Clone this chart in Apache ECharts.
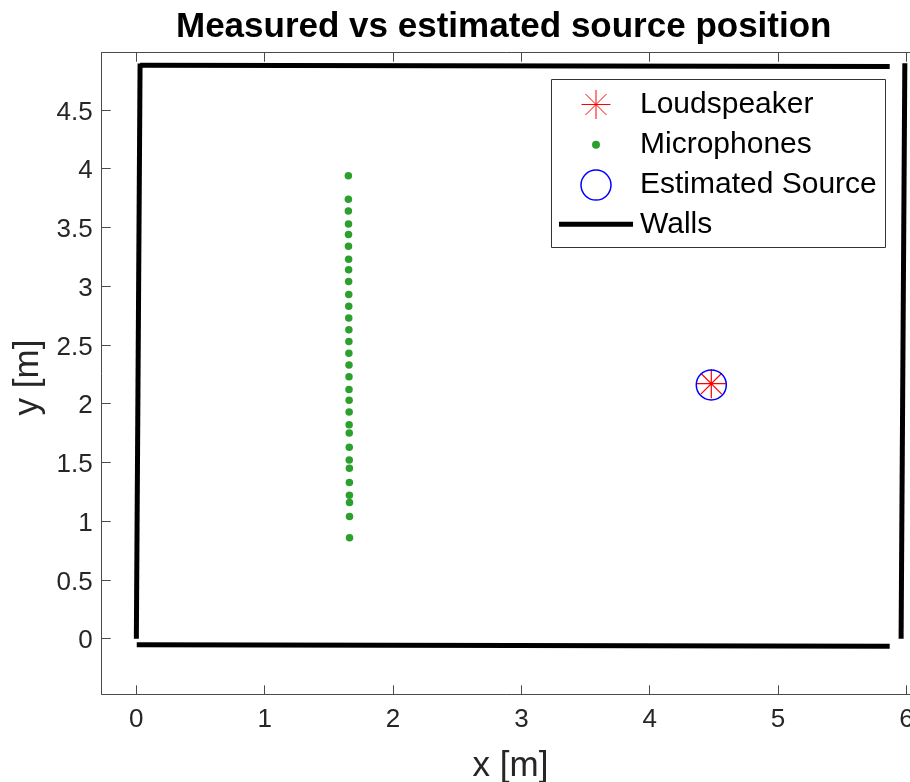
<!DOCTYPE html>
<html>
<head>
<meta charset="utf-8">
<script src="https://cdn.jsdelivr.net/npm/echarts@6/dist/echarts.min.js"></script>
<style>
  html, body { margin: 0; padding: 0; background: #ffffff; }
  #chart { width: 910px; height: 782px; }
</style>
</head>
<body>
<div id="chart"></div>
<script>
// Tick positions (metres)
const xTicks = [0, 1, 2, 3, 4, 5, 6];
const yTicks = [0, 0.5, 1, 1.5, 2, 2.5, 3, 3.5, 4, 4.5];

// Measured loudspeaker and estimated source position [x, y]
const loudspeaker = [[4.48, 2.17]];
const estimatedSource = [[4.48, 2.16]];

// Microphone array (linear array along y)
const micX = [1.652, 1.652, 1.652, 1.653, 1.653, 1.653, 1.654, 1.654, 1.654, 1.655,
              1.655, 1.655, 1.656, 1.656, 1.656, 1.657, 1.657, 1.657, 1.658, 1.658,
              1.658, 1.659, 1.659, 1.659, 1.660, 1.660, 1.660, 1.661, 1.661, 1.661];
const micY = [3.94, 3.74, 3.64, 3.53, 3.44, 3.34, 3.23, 3.14, 3.04, 2.93,
              2.83, 2.73, 2.63, 2.53, 2.43, 2.33, 2.23, 2.12, 2.03, 1.93,
              1.82, 1.75, 1.63, 1.52, 1.45, 1.33, 1.22, 1.16, 1.04, 0.86];

// Room walls, one segment each: [[x0, y0], [x1, y1]]
const wallTop = [[0.029, 4.881], [5.87, 4.870]];
const wallLeft = [[0.0, 0.0], [0.029, 4.895]];
const wallBottom = [[0.003, -0.052], [5.87, -0.064]];
const wallRight = [[5.959, 0.0], [5.988, 4.897]];

const microphones = micX.map((x, i) => [x, micY[i]]);
const walls = [wallTop, wallLeft, wallBottom, wallRight];

const FONT = 'Liberation Sans';
const AX = '#262626';
const FRAME = '#4a4a4a';
const STAR = 'path://M0,-10L0,10M-10,0L10,0M-7.2,-7.2L7.2,7.2M-7.2,7.2L7.2,-7.2';

const xMin = -0.27, xMax = 6.1;
const yMin = -0.473, yMax = 4.987;

function frameAxis(extra) {
  return Object.assign({
    type: 'value',
    axisLine: { show: true, onZero: false, lineStyle: { color: FRAME, width: 1 } },
    splitLine: { show: false },
    axisLabel: { show: false }
  }, extra);
}
function ticks(values) {
  return { show: true, inside: true, length: 9, customValues: values, lineStyle: { color: FRAME, width: 1 } };
}

const chart = echarts.init(document.getElementById('chart'), null, { renderer: 'canvas' });

// Legend rows: the icon column is 74 px wide starting at x = 559;
// each legend is placed by the left edge of its icon's drawn box.
const ICON_COL = 559, ICON_W = 74;
const legendText = { fontFamily: FONT, fontSize: 30, color: '#000000', lineHeight: 30, padding: [0, 0, 0, 2] };
function legendRow(name, top, h, drawnW, icon, style) {
  return {
    left: ICON_COL + (ICON_W - drawnW) / 2, top: top, padding: 0, z: 10,
    orient: 'vertical',
    itemWidth: ICON_W, itemHeight: h,
    selectedMode: false,
    symbolKeepAspect: true,
    textStyle: legendText,
    data: [{ name: name, icon: icon, itemStyle: style }]
  };
}

const option = {
  animation: false,
  backgroundColor: '#ffffff',
  title: {
    text: 'Measured vs estimated source position',
    left: 176, top: 10, padding: 0,
    textStyle: { fontFamily: FONT, fontSize: 35, fontWeight: 'bold', color: '#000000' }
  },
  grid: {
    left: 101.7, top: 52.7, width: 817.5, height: 641.6,
    containLabel: false, outerBoundsMode: 'none'
  },
  xAxis: [
    frameAxis({
      position: 'bottom', min: xMin, max: xMax,
      axisTick: ticks(xTicks),
      axisLabel: { show: true, customValues: xTicks, margin: 13, fontFamily: FONT, fontSize: 26, color: AX,
                   showMinLabel: true, showMaxLabel: true, hideOverlap: false },
      name: 'x [m]', nameLocation: 'middle', nameGap: 55,
      nameTextStyle: { fontFamily: FONT, fontSize: 35, color: AX }
    }),
    frameAxis({ position: 'top', min: xMin, max: xMax, axisTick: ticks(xTicks) })
  ],
  yAxis: [
    frameAxis({
      position: 'left', min: yMin, max: yMax,
      axisTick: ticks(yTicks),
      axisLabel: { show: true, customValues: yTicks, margin: 9, fontFamily: FONT, fontSize: 26, color: AX,
                   verticalAlign: 'top', lineHeight: 5,
                   showMinLabel: true, showMaxLabel: true, hideOverlap: false },
      name: 'y [m]', nameLocation: 'middle', nameGap: 55, nameRotate: 90,
      nameTextStyle: { fontFamily: FONT, fontSize: 35, color: AX, padding: [0, 8, 0, 0] }
    }),
    frameAxis({ position: 'right', min: yMin, max: yMax, axisTick: ticks(yTicks) })
  ],
  graphic: [{
    type: 'rect', z: 5,
    shape: { x: 551.5, y: 79.5, width: 334, height: 168 },
    style: { fill: '#ffffff', stroke: '#333333', lineWidth: 1 }
  }],
  legend: [
    legendRow('Loudspeaker', 89.5, 29, 30, STAR,
              { color: 'transparent', borderColor: '#ff0000', borderWidth: 1, opacity: 1 }),
    legendRow('Microphones', 129.7, 8, 8, 'circle',
              { color: '#2ca02c', borderWidth: 0, opacity: 1 }),
    legendRow('Estimated Source', 169.3, 30, 31.5, 'circle',
              { color: 'transparent', borderColor: '#0000ff', borderWidth: 1.5, opacity: 1 }),
    legendRow('Walls', 209.3, 5, 74, 'rect',
              { color: '#000000', borderWidth: 0, opacity: 1 })
  ],
  series: [
    {
      name: 'Loudspeaker', type: 'scatter',
      symbol: STAR, symbolSize: 29, symbolKeepAspect: true,
      itemStyle: { color: 'transparent', borderColor: '#ff0000', borderWidth: 1.2, opacity: 1 },
      data: loudspeaker, silent: true
    },
    {
      name: 'Microphones', type: 'scatter',
      symbol: 'circle', symbolSize: 7.5,
      itemStyle: { color: '#2ca02c', borderWidth: 0, opacity: 1 },
      data: microphones, silent: true
    },
    {
      name: 'Estimated Source', type: 'scatter',
      symbol: 'circle', symbolSize: 30,
      itemStyle: { color: 'transparent', borderColor: '#0000ff', borderWidth: 1.5, opacity: 1 },
      data: estimatedSource, silent: true
    }
  ].concat(walls.map(seg => ({
    name: 'Walls', type: 'line',
    symbol: 'none', showSymbol: false, clip: false, silent: true,
    itemStyle: { color: '#000000' },
    lineStyle: { color: '#000000', width: 5, cap: 'butt' },
    data: seg
  })))
};

chart.setOption(option);
</script>
</body>
</html>
